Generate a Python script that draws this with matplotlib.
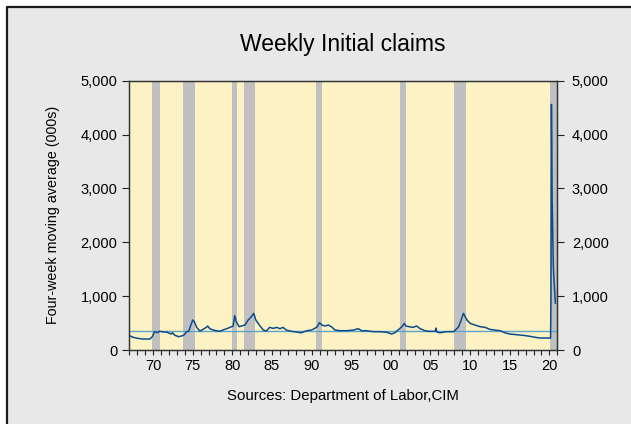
import matplotlib
matplotlib.use("Agg")
import matplotlib.pyplot as plt
from matplotlib.patches import Rectangle
from matplotlib.lines import Line2D
from matplotlib.ticker import FuncFormatter, MultipleLocator

plt.rcParams["font.family"] = ["Liberation Sans", "DejaVu Sans"]

# four-week moving average of initial claims (000s)
years = [1967.0, 1967.5, 1968.1, 1968.7, 1969.6, 1969.9, 1970.2, 1970.6, 1970.8,
         1971.3, 1971.7, 1971.9, 1972.3, 1972.45, 1972.7, 1973.2, 1973.6, 1973.9,
         1974.2, 1974.5, 1974.7, 1975.0, 1975.2, 1975.5, 1975.9, 1976.3, 1976.7,
         1976.9, 1977.15, 1977.6, 1978.0, 1978.4, 1978.8, 1979.3, 1979.7, 1980.1,
         1980.3, 1980.5, 1980.85, 1981.15, 1981.6, 1982.0, 1982.4, 1982.7, 1982.96,
         1983.4, 1983.9, 1984.3, 1984.7, 1985.15, 1985.6, 1986.0, 1986.4, 1986.8,
         1987.5, 1988.1, 1988.7, 1989.4, 1990.0, 1990.4, 1990.7, 1991.0, 1991.3,
         1991.7, 1992.1, 1992.5, 1992.95, 1993.6, 1994.4, 1995.3, 1995.9, 1996.3,
         1996.9, 1997.8, 1998.6, 1999.5, 2000.1, 2000.5, 2001.0, 2001.4, 2001.7,
         2001.9, 2002.3, 2002.8, 2003.25, 2003.7, 2004.3, 2004.9, 2005.6, 2005.7,
         2005.8, 2006.2, 2007.0, 2007.9, 2008.5, 2008.8, 2009.15, 2009.6, 2010.0,
         2010.6, 2011.25, 2011.9, 2012.5, 2013.1, 2013.8, 2014.4, 2015.0, 2015.9,
         2016.7, 2017.6, 2018.2, 2018.8, 2019.7, 2020.15, 2020.2, 2020.23,
         2020.26, 2020.35, 2020.5, 2020.6, 2020.76]
claims = [266, 235, 216, 204, 204, 247, 340, 320, 350,
          334, 334, 320, 297, 320, 278, 247, 260, 278,
          334, 352, 433, 557, 526, 420, 352, 383, 420,
          445, 396, 371, 358, 346, 371, 396, 420, 445,
          637, 526, 433, 445, 464, 557, 618, 680, 557,
          464, 371, 352, 420, 402, 420, 396, 420, 371,
          346, 334, 320, 358, 371, 402, 430, 507, 464,
          445, 464, 433, 371, 358, 358, 371, 396, 358,
          358, 340, 340, 328, 297, 320, 383, 433, 495,
          445, 433, 420, 445, 396, 358, 346, 346, 408,
          334, 320, 340, 340, 420, 526, 680, 557, 495,
          464, 433, 420, 383, 371, 358, 320, 297, 284,
          272, 253, 235, 223, 223, 220, 1000, 2700,
          4560, 2780, 1545, 1250, 870]
average_level = 352

# NBER recessions (start, end)
rec_start = [1969.92, 1973.83, 1980.0, 1981.5, 1990.5, 2001.17, 2007.92, 2020.1]
rec_end = [1970.92, 1975.25, 1980.58, 1982.92, 1991.25, 2001.92, 2009.5, 2021.0]

tick_years = list(range(1970, 2021, 5))
tick_labels = ["70", "75", "80", "85", "90", "95", "00", "05", "10", "15", "20"]

fig = plt.figure(figsize=(6.31, 4.24), dpi=100, facecolor="white")
fig.add_artist(Rectangle((7 / 631, 0), 1, 1 - 7 / 424, transform=fig.transFigure,
                         facecolor="#e8e8e8", edgecolor="none", zorder=0))
fig.add_artist(Line2D([7 / 631, 7 / 631, 1.0], [0, 1 - 7 / 424, 1 - 7 / 424],
                      transform=fig.transFigure, color="#1a1a1a", lw=1.6))

ax = fig.add_axes([129.3 / 631, 1 - 350 / 424, 428 / 631, 269.3 / 424])
ax.set_facecolor("#fdf2c4")

for s, e in zip(rec_start, rec_end):
    ax.axvspan(s, e, color="#c0c0c0", lw=0, zorder=1)

ax.axhline(average_level, color="#5fa3c6", lw=1.0, zorder=2)
ax.plot(years, claims, color="#0b4c8c", lw=1.1, zorder=3)

ax.set_xlim(1967.0, 2021.0)
ax.set_ylim(0, 5000)
ax.set_xticks(tick_years)
ax.set_xticklabels(tick_labels)
ax.xaxis.set_minor_locator(MultipleLocator(1))
ax.set_yticks(range(0, 5001, 1000))
fmt = FuncFormatter(lambda v, p: f"{int(v):,}")
ax.yaxis.set_major_formatter(fmt)

ax.tick_params(axis="x", which="both", direction="out", length=3.5, width=0.8,
               labelsize=10.5, pad=3, color="#222222")
ax.tick_params(axis="y", direction="out", length=5, width=0.8,
               labelsize=10.5, pad=3.5, color="#222222")
for sp in ax.spines.values():
    sp.set_color("#333333")
    sp.set_linewidth(0.9)

# right-hand scale, same values
ax2 = ax.twinx()
ax2.set_ylim(0, 5000)
ax2.set_yticks(range(0, 5001, 1000))
ax2.yaxis.set_major_formatter(fmt)
ax2.tick_params(axis="y", direction="out", length=5, width=0.8,
                labelsize=10.5, pad=5.5, color="#222222")
for sp in ax2.spines.values():
    sp.set_color("#333333")
    sp.set_linewidth(0.9)

ax.set_ylabel("Four-week moving average (000s)", fontsize=10.3, labelpad=15)
fig.text(343 / 631, 1 - 45 / 424, "Weekly Initial claims", fontsize=16.5,
         ha="center", va="center")
fig.text(343 / 631, 1 - 396 / 424, "Sources: Department of Labor,CIM", fontsize=10.8,
         ha="center", va="center")

fig.savefig("out.png", dpi=100, facecolor=fig.get_facecolor())
